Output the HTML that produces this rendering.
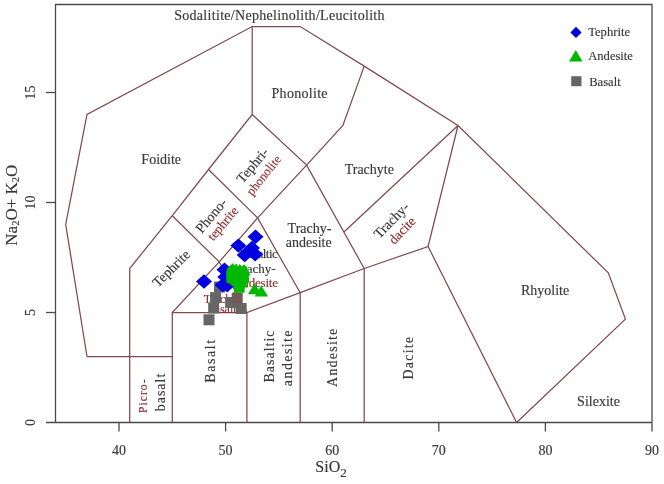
<!DOCTYPE html>
<html><head><meta charset="utf-8"><title>TAS diagram</title>
<style>
html,body{margin:0;padding:0;background:#fff;}
body{width:664px;height:484px;overflow:hidden;font-family:"Liberation Serif",serif;}
svg{display:block;filter:blur(0.35px);}
text{stroke-width:0.15px;}
</style></head><body>
<svg width="664" height="484" viewBox="0 0 664 484">
<rect width="664" height="484" fill="#ffffff"/>
<g fill="none" stroke="#7f4a50" stroke-width="1.25" stroke-linejoin="miter">
<polyline points="87.0,356.5 65.7,224.5 87.0,114.5 252.2,26.5 300.2,26.5 364.2,66.1 458.0,125.5 608.3,272.9 625.4,319.1 516.6,422.5"/>
<polyline points="87.0,356.5 172.3,356.5"/>
<polyline points="129.7,422.5 129.7,268.5 172.3,215.7 208.5,169.5 252.2,114.5 252.2,26.5"/>
<polyline points="172.3,422.5 172.3,312.5 219.2,261.9 257.6,217.9 306.6,165.1 342.9,125.5 364.2,66.1"/>
<polyline points="172.3,312.5 246.9,312.5 300.2,292.7 364.2,268.5 428.1,246.5 458.0,125.5"/>
<polyline points="246.9,422.5 246.9,312.5"/>
<polyline points="300.2,422.5 300.2,292.7"/>
<polyline points="364.2,422.5 364.2,268.5"/>
<polyline points="428.1,246.5 516.6,422.5"/>
<polyline points="172.3,215.7 219.2,261.9 246.9,312.5"/>
<polyline points="208.5,169.5 257.6,217.9 300.2,292.7"/>
<polyline points="252.2,114.5 306.6,165.1 364.2,268.5"/>
<polyline points="343.9,232.0 458.0,125.5"/>
</g>
<g fill="none" stroke="#4a4a4a" stroke-width="1.3">
<polyline points="55.5,422.5 55.5,4.5 652,4.5 652,422.5"/>
<line x1="46" y1="422.5" x2="652" y2="422.5"/>
<line x1="46" y1="312.5" x2="55.5" y2="312.5"/>
<line x1="46" y1="202.5" x2="55.5" y2="202.5"/>
<line x1="46" y1="92.5" x2="55.5" y2="92.5"/>
<line x1="119.0" y1="422.5" x2="119.0" y2="431.5"/>
<line x1="225.6" y1="422.5" x2="225.6" y2="431.5"/>
<line x1="332.2" y1="422.5" x2="332.2" y2="431.5"/>
<line x1="438.8" y1="422.5" x2="438.8" y2="431.5"/>
<line x1="545.4" y1="422.5" x2="545.4" y2="431.5"/>
<line x1="652.0" y1="422.5" x2="652.0" y2="431.5"/>
</g>
<g font-family="Liberation Serif, serif">
<text x="119.0" y="454.5" font-size="14" fill="#383838" stroke="#383838" text-anchor="middle">40</text>
<text x="225.6" y="454.5" font-size="14" fill="#383838" stroke="#383838" text-anchor="middle">50</text>
<text x="332.2" y="454.5" font-size="14" fill="#383838" stroke="#383838" text-anchor="middle">60</text>
<text x="438.8" y="454.5" font-size="14" fill="#383838" stroke="#383838" text-anchor="middle">70</text>
<text x="545.4" y="454.5" font-size="14" fill="#383838" stroke="#383838" text-anchor="middle">80</text>
<text x="652.0" y="454.5" font-size="14" fill="#383838" stroke="#383838" text-anchor="middle">90</text>
<text x="34.8" y="422.5" font-size="14" fill="#383838" stroke="#383838" text-anchor="middle" transform="rotate(-90 34.8 422.5)">0</text>
<text x="34.8" y="312.5" font-size="14" fill="#383838" stroke="#383838" text-anchor="middle" transform="rotate(-90 34.8 312.5)">5</text>
<text x="34.8" y="202.5" font-size="14" fill="#383838" stroke="#383838" text-anchor="middle" transform="rotate(-90 34.8 202.5)">10</text>
<text x="34.8" y="92.5" font-size="14" fill="#383838" stroke="#383838" text-anchor="middle" transform="rotate(-90 34.8 92.5)">15</text>
<text x="331" y="472.3" font-size="16" fill="#383838" stroke="#383838" text-anchor="middle">SiO<tspan font-size="13" dy="4.5">2</tspan></text>
<text transform="translate(16.8,205.2) rotate(-90)" font-size="17" fill="#383838" stroke="#383838" text-anchor="middle">Na<tspan font-size="10.5" dy="2.5">2</tspan><tspan dy="-2.5">O+ K</tspan><tspan font-size="10.5" dy="2.5">2</tspan><tspan dy="-2.5">O</tspan></text>
<text x="279.5" y="20.4" font-size="14" fill="#383838" stroke="#383838" text-anchor="middle" letter-spacing="0.3">Sodalitite/Nephelinolith/Leucitolith</text>
<text x="161.2" y="164.1" font-size="14" fill="#383838" stroke="#383838" text-anchor="middle">Foidite</text>
<text x="299.7" y="97.5" font-size="14" fill="#383838" stroke="#383838" text-anchor="middle" letter-spacing="0.3">Phonolite</text>
<text x="369.3" y="174.0" font-size="14" fill="#383838" stroke="#383838" text-anchor="middle">Trachyte</text>
<text x="309.5" y="233.0" font-size="14" fill="#383838" stroke="#383838" text-anchor="middle">Trachy-</text>
<text x="308.7" y="247.0" font-size="14" fill="#383838" stroke="#383838" text-anchor="middle">andesite</text>
<text x="545.1" y="294.7" font-size="14" fill="#383838" stroke="#383838" text-anchor="middle">Rhyolite</text>
<text x="598.5" y="405.7" font-size="14" fill="#383838" stroke="#383838" text-anchor="middle">Silexite</text>
<text x="277.3" y="258.4" font-size="13" fill="#383838" stroke="#383838" text-anchor="end" letter-spacing="-0.5">Basaltic</text>
<text x="275.5" y="272.6" font-size="13" fill="#383838" stroke="#383838" text-anchor="end">trachy-</text>
<text x="277.8" y="286.9" font-size="13" fill="#8b2e2e" stroke="#8b2e2e" text-anchor="end" letter-spacing="-0.2">andesite</text>
<text x="203.8" y="302.7" font-size="12" fill="#8b2e2e" stroke="#8b2e2e" text-anchor="start">Trachy-</text>
<text x="208.6" y="312.9" font-size="12" fill="#8b2e2e" stroke="#8b2e2e" text-anchor="start">basalt</text>
<text transform="translate(252.5,165.3) rotate(-50)" x="0" y="4.6" font-size="14" fill="#383838" stroke="#383838" text-anchor="middle">Tephri-</text>
<text transform="translate(263.8,175.2) rotate(-51)" x="0" y="4.1" font-size="12.5" fill="#8b2e2e" stroke="#8b2e2e" text-anchor="middle">phonolite</text>
<text transform="translate(211.2,215.6) rotate(-50)" x="0" y="4.6" font-size="14" fill="#383838" stroke="#383838" text-anchor="middle">Phono-</text>
<text transform="translate(222.8,223.6) rotate(-50)" x="0" y="4.3" font-size="13" fill="#8b2e2e" stroke="#8b2e2e" text-anchor="middle">tephrite</text>
<text transform="translate(171.1,268.4) rotate(-45)" x="0" y="4.6" font-size="14" fill="#383838" stroke="#383838" text-anchor="middle">Tephrite</text>
<text transform="translate(391.4,220.4) rotate(-46)" x="0" y="4.6" font-size="14" fill="#383838" stroke="#383838" text-anchor="middle">Trachy-</text>
<text transform="translate(402.1,230.3) rotate(-46)" x="0" y="4.5" font-size="13.5" fill="#8b2e2e" stroke="#8b2e2e" text-anchor="middle">dacite</text>
<text transform="translate(142.9,395.7) rotate(-90)" x="0" y="3.8" font-size="11.5" fill="#8b2e2e" stroke="#8b2e2e" text-anchor="middle" letter-spacing="1.1">Picro-</text>
<text transform="translate(160.0,392.0) rotate(-90)" x="0" y="4.6" font-size="14" fill="#383838" stroke="#383838" text-anchor="middle" letter-spacing="1">basalt</text>
<text transform="translate(210.3,360.5) rotate(-90)" x="0" y="4.6" font-size="14" fill="#383838" stroke="#383838" text-anchor="middle" letter-spacing="1.6">Basalt</text>
<text transform="translate(269.5,356.0) rotate(-90)" x="0" y="4.6" font-size="14" fill="#383838" stroke="#383838" text-anchor="middle" letter-spacing="1">Basaltic</text>
<text transform="translate(287.4,357.6) rotate(-90)" x="0" y="4.6" font-size="14" fill="#383838" stroke="#383838" text-anchor="middle" letter-spacing="1.4">andesite</text>
<text transform="translate(332.8,357.2) rotate(-90)" x="0" y="4.6" font-size="14" fill="#383838" stroke="#383838" text-anchor="middle" letter-spacing="1.2">Andesite</text>
<text transform="translate(408.2,357.6) rotate(-90)" x="0" y="4.6" font-size="14" fill="#383838" stroke="#383838" text-anchor="middle" letter-spacing="1.2">Dacite</text>
</g>
<rect x="203.5" y="314.3" width="11" height="11" fill="#666666"/>
<rect x="214.0" y="281.5" width="11" height="11" fill="#666666"/>
<rect x="210.1" y="292.1" width="11" height="11" fill="#666666"/>
<rect x="208.2" y="302.5" width="11" height="11" fill="#666666"/>
<rect x="225.1" y="297.0" width="11" height="11" fill="#666666"/>
<rect x="235.7" y="303.0" width="11" height="11" fill="#666666"/>
<rect x="231.7" y="292.5" width="11" height="11" fill="#735a5a"/>
<polygon points="255.5,229.6 263.5,236.8 255.5,244.0 247.5,236.8" fill="#0000e0"/>
<polygon points="238.4,238.4 246.4,245.6 238.4,252.8 230.4,245.6" fill="#0000e0"/>
<polygon points="252.0,240.8 260.0,248.0 252.0,255.2 244.0,248.0" fill="#0000e0"/>
<polygon points="244.7,247.8 252.7,255.0 244.7,262.2 236.7,255.0" fill="#0000e0"/>
<polygon points="255.1,247.0 263.1,254.2 255.1,261.4 247.1,254.2" fill="#0000e0"/>
<polygon points="204.0,274.3 212.0,281.5 204.0,288.7 196.0,281.5" fill="#0000e0"/>
<polygon points="224.5,262.6 232.5,269.8 224.5,277.0 216.5,269.8" fill="#0000e0"/>
<polygon points="225.3,269.7 233.3,276.9 225.3,284.1 217.3,276.9" fill="#0000e0"/>
<polygon points="222.6,277.9 230.6,285.1 222.6,292.3 214.6,285.1" fill="#0000e0"/>
<polygon points="227.2,278.1 235.2,285.3 227.2,292.5 219.2,285.3" fill="#0000e0"/>
<polygon points="232.8,263.4 239.6,274.4 226.1,274.4" fill="#00b800"/>
<polygon points="236.1,263.8 242.8,274.8 229.3,274.8" fill="#00b800"/>
<polygon points="239.8,264.2 246.6,275.2 233.1,275.2" fill="#00b800"/>
<polygon points="244.0,264.6 250.8,275.6 237.2,275.6" fill="#00b800"/>
<polygon points="237.0,268.0 243.8,279.0 230.2,279.0" fill="#00b800"/>
<polygon points="233.0,272.0 239.8,283.0 226.2,283.0" fill="#00b800"/>
<polygon points="241.5,272.0 248.2,283.0 234.8,283.0" fill="#00b800"/>
<polygon points="238.0,275.0 244.8,286.0 231.2,286.0" fill="#00b800"/>
<polygon points="241.5,276.5 248.2,287.5 234.8,287.5" fill="#00b800"/>
<polygon points="254.7,283.2 261.4,294.2 247.9,294.2" fill="#00b800"/>
<polygon points="261.3,285.6 268.1,296.6 254.6,296.6" fill="#00b800"/>
<polygon points="227.0,268.5 229.5,266.0 232.8,263.4 234.5,265.8 236.1,263.8 238.0,266.2 239.8,264.2 242.0,266.8 244.0,264.6 247.0,267.5 248.6,272.0 249.2,282.5 245.0,284.5 244.5,292.7 233.8,292.7 234.0,286.0 229.0,283.5 226.3,281.0 226.2,272.0" fill="#00b800"/>
<polygon points="576.0,26.8 581.6,32.4 576.0,38.0 570.4,32.4" fill="#0000e0"/>
<polygon points="575.8,50.0 582.5,61.6 569.0,61.6" fill="#00b800"/>
<rect x="571.2" y="76.2" width="10.3" height="10" fill="#666666"/>
<g font-family="Liberation Serif, serif" font-size="12.6" fill="#383838" stroke="#383838">
<text x="588.2" y="36.2">Tephrite</text>
<text x="588.2" y="60.2">Andesite</text>
<text x="589.2" y="86.2">Basalt</text>
</g>
</svg>
</body></html>
